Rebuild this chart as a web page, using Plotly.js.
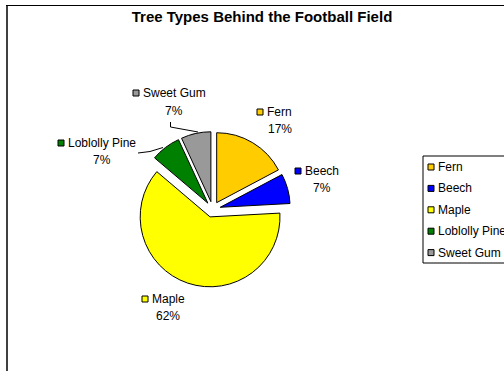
<!DOCTYPE html>
<html><head><meta charset="utf-8">
<script src="https://cdn.plot.ly/plotly-3.0.1.min.js"></script>
<style>html,body{margin:0;padding:0;background:#fff;overflow:hidden;} #chart{width:504px;height:371px;}</style>
</head><body><div id="chart"></div>
<script>
// ---- data ----
const categories = ['Fern', 'Beech', 'Maple', 'Loblolly Pine', 'Sweet Gum'];
const treeCounts = [5, 2, 18, 2, 2];
const sliceColors = ['#FFCC00', '#0000FF', '#FFFF00', '#008000', '#999999'];
const chartTitle = 'Tree Types Behind the Football Field';

// ---- layout helpers (pixel -> paper) ----
const W = 504, H = 371;
const px = x => x / W, py = y => 1 - y / H;
const FONT = 'Liberation Sans, Arial, sans-serif';
const total = treeCounts.reduce((a, b) => a + b, 0);
const pctText = treeCounts.map(v => Math.round(v / total * 100) + '%');

// pie geometry in pixels
const cx = 212.6, cy = 209.4, r = 69.9, pull = 0.113;
const half = r * (1 + pull);

// label placement: [name start x, name y, pct centre x, pct y]
const labelPos = [[267, 112, 280, 129], [305, 171, 322, 188], [152, 299, 168, 316], [68, 143, 102, 160], [143, 93, 174, 111]];

const annotations = [];
const shapes = [];
const lblFont = {family: FONT, size: 12, color: '#000'};

categories.forEach((c, i) => {
  const [lx, ly, pcx, pcy] = labelPos[i];
  annotations.push({xref: 'paper', yref: 'paper', x: px(lx - 1), y: py(ly), xanchor: 'left', yanchor: 'middle',
    text: c, showarrow: false, font: lblFont, borderpad: 0});
  annotations.push({xref: 'paper', yref: 'paper', x: px(pcx), y: py(pcy), xanchor: 'center', yanchor: 'middle',
    text: pctText[i], showarrow: false, font: lblFont, borderpad: 0});
  shapes.push({type: 'rect', xref: 'paper', yref: 'paper', x0: px(lx - 10), x1: px(lx - 4), y0: py(ly - 3), y1: py(ly + 3),
    fillcolor: sliceColors[i], line: {color: '#000', width: 1}});
});

// legend (custom, Excel style)
shapes.push({type: 'rect', xref: 'paper', yref: 'paper', x0: px(423), x1: px(545), y0: py(156), y1: py(263),
  fillcolor: 'rgba(0,0,0,0)', line: {color: '#000', width: 1}});
categories.forEach((c, i) => {
  const y = 167 + i * 21.4;
  shapes.push({type: 'rect', xref: 'paper', yref: 'paper', x0: px(428), x1: px(434), y0: py(y - 3), y1: py(y + 3),
    fillcolor: sliceColors[i], line: {color: '#000', width: 1}});
  annotations.push({xref: 'paper', yref: 'paper', x: px(437), y: py(y), xanchor: 'left', yanchor: 'middle',
    text: c, showarrow: false, font: lblFont, borderpad: 0});
});

// leader lines
const pathOf = pts => pts.map((p, k) => (k ? 'L' : 'M') + px(p[0]) + ',' + py(p[1])).join(' ');
shapes.push({type: 'path', xref: 'paper', yref: 'paper', path: pathOf([[170.5, 122], [170.5, 127], [198, 132]]), line: {color: '#000', width: 1}});
shapes.push({type: 'path', xref: 'paper', yref: 'paper', path: pathOf([[138, 153], [150, 151.5], [163, 147.5]]), line: {color: '#000', width: 1}});

// chart-area border (left and top visible)
shapes.push({type: 'line', xref: 'paper', yref: 'paper', x0: px(7), x1: px(7), y0: py(5), y1: py(380), line: {color: '#404040', width: 2}});
shapes.push({type: 'line', xref: 'paper', yref: 'paper', x0: px(6), x1: px(520), y0: py(5.5), y1: py(5.5), line: {color: '#000', width: 1}});

const trace = {
  type: 'pie',
  labels: categories,
  values: treeCounts,
  marker: {colors: sliceColors, line: {color: '#000', width: 1}},
  pull: categories.map(() => pull),
  sort: false,
  direction: 'clockwise',
  rotation: 0,
  textinfo: 'none',
  hoverinfo: 'none',
  showlegend: false,
  domain: {x: [px(cx - half), px(cx + half)], y: [py(cy + half), py(cy - half)]}
};

const layout = {
  width: W, height: H,
  margin: {l: 0, r: 0, t: 0, b: 0, autoexpand: false},
  paper_bgcolor: '#fff', plot_bgcolor: '#fff',
  showlegend: false,
  title: {text: chartTitle, font: {family: FONT, size: 15, color: '#000', weight: 'bold'},
    x: px(262), xanchor: 'center', xref: 'container', y: py(17), yanchor: 'middle', yref: 'container'},
  annotations: annotations,
  shapes: shapes
};

Plotly.newPlot('chart', [trace], layout, {staticPlot: true, displayModeBar: false});
</script></body></html>
